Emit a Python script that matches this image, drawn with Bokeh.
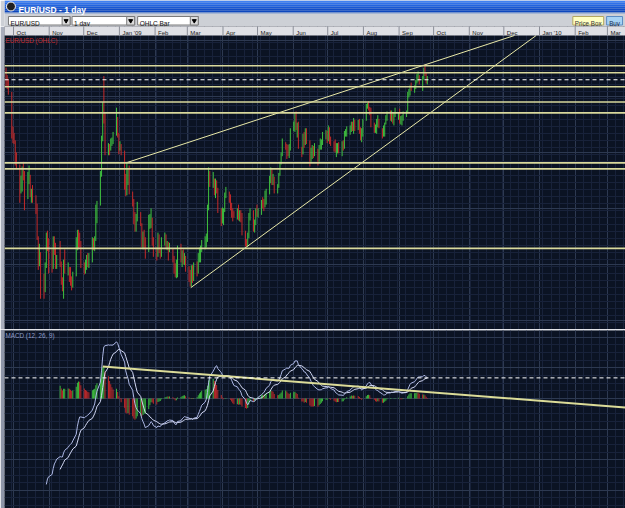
import numpy as np
import pandas as pd
from bokeh.plotting import figure
from bokeh.layouts import column
from bokeh.models import Range1d, FixedTicker, Grid, Span, Label, ColumnDataSource
from bokeh.core.properties import value
from bokeh.embed import file_html
from bokeh.resources import INLINE

# ---------------- data (EUR/USD daily) ----------------
# each row: (high, low, close)
sep08 = [(1.4810, 1.4600, 1.4640), (1.4730, 1.4580, 1.4630), (1.4690, 1.4520, 1.4600),
         (1.4550, 1.4050, 1.4090), (1.4180, 1.4000, 1.4080)]
oct08 = [(1.4110, 1.3990, 1.4030), (1.4030, 1.3760, 1.3790), (1.3900, 1.3730, 1.3770),
         (1.3770, 1.3360, 1.3500), (1.3650, 1.3460, 1.3600), (1.3750, 1.3480, 1.3650),
         (1.3800, 1.3600, 1.3620), (1.3700, 1.3280, 1.3420), (1.3690, 1.3400, 1.3610),
         (1.3760, 1.3560, 1.3630), (1.3660, 1.3420, 1.3440), (1.3510, 1.3360, 1.3460),
         (1.3550, 1.3360, 1.3400), (1.3440, 1.3240, 1.3350), (1.3350, 1.2960, 1.3000),
         (1.3000, 1.2640, 1.2760), (1.2920, 1.2680, 1.2820), (1.2830, 1.2330, 1.2500),
         (1.2600, 1.2330, 1.2470), (1.2720, 1.2400, 1.2680), (1.3040, 1.2660, 1.2990),
         (1.3060, 1.2840, 1.2950), (1.2980, 1.2600, 1.2730)]
nov08 = [(1.2860, 1.2610, 1.2700), (1.3000, 1.2650, 1.2950), (1.3000, 1.2800, 1.2880),
         (1.2930, 1.2650, 1.2720), (1.2800, 1.2650, 1.2740), (1.2950, 1.2670, 1.2720),
         (1.2730, 1.2480, 1.2500), (1.2560, 1.2410, 1.2470), (1.2750, 1.2330, 1.2730),
         (1.2860, 1.2600, 1.2630), (1.2720, 1.2580, 1.2650), (1.2670, 1.2510, 1.2590),
         (1.2670, 1.2470, 1.2520), (1.2570, 1.2420, 1.2480), (1.2620, 1.2450, 1.2580),
         (1.2990, 1.2570, 1.2890), (1.3070, 1.2850, 1.3060), (1.3070, 1.2860, 1.2980),
         (1.3040, 1.2880, 1.2930), (1.2950, 1.2660, 1.2690)]
dec08 = [(1.2720, 1.2590, 1.2620), (1.2750, 1.2600, 1.2700), (1.2800, 1.2640, 1.2730),
         (1.2820, 1.2670, 1.2700), (1.2820, 1.2660, 1.2720), (1.2990, 1.2720, 1.2940),
         (1.2980, 1.2850, 1.2930), (1.3000, 1.2840, 1.2970), (1.3340, 1.2950, 1.3290),
         (1.3380, 1.3140, 1.3340), (1.3700, 1.3330, 1.3670), (1.4080, 1.3640, 1.4040),
         (1.4440, 1.4020, 1.4400), (1.4720, 1.4210, 1.4330), (1.4330, 1.3870, 1.3900),
         (1.4000, 1.3870, 1.3950), (1.3990, 1.3870, 1.3920), (1.4050, 1.3920, 1.4000),
         (1.4060, 1.3970, 1.4020), (1.4120, 1.3990, 1.4090), (1.4380, 1.4080, 1.4350),
         (1.4280, 1.4060, 1.4110), (1.4110, 1.3880, 1.3970)]
jan09 = [(1.4020, 1.3920, 1.3980), (1.3990, 1.3870, 1.3920), (1.3920, 1.3500, 1.3620),
         (1.3670, 1.3430, 1.3450), (1.3790, 1.3440, 1.3650), (1.3720, 1.3550, 1.3700),
         (1.3760, 1.3450, 1.3460), (1.3480, 1.3320, 1.3370), (1.3400, 1.3130, 1.3190),
         (1.3260, 1.3050, 1.3140), (1.3240, 1.3050, 1.3210), (1.3370, 1.3160, 1.3280),
         (1.3260, 1.3110, 1.3110), (1.3140, 1.2880, 1.2950), (1.3050, 1.2860, 1.3000),
         (1.3070, 1.2860, 1.2970), (1.2990, 1.2760, 1.2830), (1.3230, 1.2830, 1.3160),
         (1.3240, 1.3080, 1.3160), (1.3300, 1.3090, 1.3180), (1.3200, 1.2900, 1.2960),
         (1.2990, 1.2780, 1.2800)]
feb09 = [(1.2880, 1.2740, 1.2790), (1.3040, 1.2780, 1.3000), (1.3020, 1.2820, 1.2850),
         (1.2880, 1.2760, 1.2840), (1.2990, 1.2780, 1.2950), (1.3040, 1.2900, 1.2990),
         (1.3020, 1.2860, 1.2900), (1.2950, 1.2850, 1.2920), (1.2940, 1.2740, 1.2860),
         (1.2930, 1.2830, 1.2860), (1.2870, 1.2720, 1.2780), (1.2790, 1.2600, 1.2640),
         (1.2710, 1.2560, 1.2600), (1.2750, 1.2550, 1.2680), (1.2900, 1.2560, 1.2880),
         (1.2920, 1.2720, 1.2740), (1.2850, 1.2670, 1.2820), (1.2860, 1.2700, 1.2770),
         (1.2820, 1.2690, 1.2790), (1.2790, 1.2620, 1.2670)]
mar09 = [(1.2680, 1.2510, 1.2600), (1.2640, 1.2460, 1.2590), (1.2690, 1.2460, 1.2640),
         (1.2690, 1.2500, 1.2530), (1.2720, 1.2520, 1.2660), (1.2730, 1.2570, 1.2640),
         (1.2820, 1.2600, 1.2790), (1.2880, 1.2720, 1.2820), (1.2900, 1.2720, 1.2860),
         (1.2960, 1.2830, 1.2920), (1.3000, 1.2860, 1.2960), (1.3030, 1.2880, 1.3000),
         (1.3340, 1.2940, 1.3300), (1.3740, 1.3280, 1.3650), (1.3700, 1.3530, 1.3580),
         (1.3690, 1.3520, 1.3600), (1.3620, 1.3440, 1.3490), (1.3620, 1.3410, 1.3560),
         (1.3600, 1.3460, 1.3520), (1.3520, 1.3250, 1.3280), (1.3300, 1.3110, 1.3180),
         (1.3310, 1.3140, 1.3250)]
apr09 = [(1.3300, 1.3120, 1.3280), (1.3470, 1.3260, 1.3440), (1.3530, 1.3410, 1.3480),
         (1.3480, 1.3360, 1.3420), (1.3450, 1.3280, 1.3360), (1.3360, 1.3200, 1.3270),
         (1.3300, 1.3160, 1.3230), (1.3270, 1.3200, 1.3220), (1.3300, 1.3180, 1.3280),
         (1.3340, 1.3170, 1.3200), (1.3280, 1.3160, 1.3250), (1.3280, 1.3150, 1.3190),
         (1.3250, 1.3010, 1.3030), (1.3060, 1.2890, 1.2950), (1.2970, 1.2890, 1.2930),
         (1.3040, 1.2890, 1.3000), (1.3250, 1.2980, 1.3250), (1.3300, 1.3170, 1.3280),
         (1.3280, 1.3050, 1.3070), (1.3180, 1.3040, 1.3150), (1.3300, 1.3120, 1.3260),
         (1.3340, 1.3210, 1.3250)]
may09 = [(1.3300, 1.3200, 1.3270), (1.3390, 1.3230, 1.3380), (1.3420, 1.3300, 1.3360),
         (1.3400, 1.3270, 1.3320), (1.3490, 1.3310, 1.3440), (1.3510, 1.3340, 1.3490),
         (1.3650, 1.3450, 1.3600), (1.3740, 1.3570, 1.3700), (1.3730, 1.3550, 1.3580),
         (1.3670, 1.3550, 1.3600), (1.3640, 1.3460, 1.3500), (1.3560, 1.3460, 1.3530),
         (1.3680, 1.3520, 1.3660), (1.3800, 1.3650, 1.3790), (1.3900, 1.3770, 1.3870),
         (1.4050, 1.3860, 1.4010), (1.4010, 1.3930, 1.3960), (1.3990, 1.3830, 1.3930),
         (1.3980, 1.3860, 1.3880), (1.3990, 1.3840, 1.3950), (1.4160, 1.3920, 1.4160)]
jun09 = [(1.4230, 1.4130, 1.4170), (1.4330, 1.4120, 1.4270), (1.4340, 1.4140, 1.4170),
         (1.4220, 1.4060, 1.4190), (1.4230, 1.3940, 1.3960), (1.3960, 1.3850, 1.3880),
         (1.4100, 1.3880, 1.4080), (1.4120, 1.3950, 1.4000), (1.4160, 1.3980, 1.4140),
         (1.4160, 1.3990, 1.4030), (1.4030, 1.3750, 1.3820), (1.3950, 1.3800, 1.3900),
         (1.3980, 1.3830, 1.3910), (1.3970, 1.3840, 1.3900), (1.4000, 1.3860, 1.3940),
         (1.3940, 1.3760, 1.3810), (1.3980, 1.3800, 1.3960), (1.4050, 1.3930, 1.3990),
         (1.4040, 1.3930, 1.4000), (1.4120, 1.3980, 1.4070), (1.4140, 1.4040, 1.4100),
         (1.4130, 1.4000, 1.4030)]
jul09 = [(1.4190, 1.4020, 1.4150), (1.4170, 1.3990, 1.4030), (1.4070, 1.3970, 1.4010),
         (1.4020, 1.3910, 1.3960), (1.4040, 1.3900, 1.3920), (1.4000, 1.3850, 1.3930),
         (1.4000, 1.3890, 1.3960), (1.4010, 1.3890, 1.3940), (1.4020, 1.3860, 1.3980),
         (1.4030, 1.3920, 1.3960), (1.4130, 1.3940, 1.4100), (1.4150, 1.4070, 1.4120),
         (1.4180, 1.4070, 1.4130), (1.4190, 1.4090, 1.4170), (1.4230, 1.4120, 1.4220),
         (1.4230, 1.4130, 1.4180), (1.4270, 1.4100, 1.4220), (1.4250, 1.4130, 1.4200),
         (1.4250, 1.4140, 1.4230), (1.4260, 1.4100, 1.4160), (1.4170, 1.4030, 1.4060),
         (1.4160, 1.4010, 1.4110), (1.4260, 1.4070, 1.4250)]
aug09 = [(1.4420, 1.4240, 1.4410), (1.4430, 1.4370, 1.4410), (1.4450, 1.4350, 1.4390),
         (1.4390, 1.4300, 1.4360), (1.4380, 1.4170, 1.4190), (1.4220, 1.4110, 1.4150),
         (1.4200, 1.4110, 1.4150), (1.4260, 1.4100, 1.4180), (1.4300, 1.4170, 1.4240),
         (1.4260, 1.4160, 1.4190), (1.4160, 1.4050, 1.4080), (1.4190, 1.4070, 1.4150),
         (1.4220, 1.4070, 1.4210), (1.4300, 1.4200, 1.4240), (1.4340, 1.4240, 1.4330),
         (1.4350, 1.4240, 1.4260), (1.4350, 1.4230, 1.4310), (1.4320, 1.4210, 1.4260),
         (1.4330, 1.4190, 1.4300), (1.4380, 1.4280, 1.4320), (1.4330, 1.4250, 1.4330)]
sep09 = [(1.4370, 1.4210, 1.4240), (1.4290, 1.4200, 1.4250), (1.4300, 1.4190, 1.4270),
         (1.4340, 1.4240, 1.4310), (1.4350, 1.4280, 1.4340), (1.4550, 1.4320, 1.4530),
         (1.4580, 1.4490, 1.4560), (1.4620, 1.4510, 1.4610), (1.4650, 1.4560, 1.4570),
         (1.4620, 1.4540, 1.4610), (1.4680, 1.4580, 1.4650), (1.4740, 1.4640, 1.4720),
         (1.4770, 1.4660, 1.4720), (1.4730, 1.4630, 1.4680), (1.4720, 1.4560, 1.4710),
         (1.4810, 1.4680, 1.4790), (1.4844, 1.4720, 1.4750), (1.4760, 1.4640, 1.4680),
         (1.4720, 1.4630, 1.4680)]
first_open = 1.4750

month_blocks = [("2008-09-24", "2008-09-30", sep08), ("2008-10-01", "2008-10-31", oct08),
                ("2008-11-01", "2008-11-30", nov08), ("2008-12-01", "2008-12-31", dec08),
                ("2009-01-01", "2009-01-31", jan09), ("2009-02-01", "2009-02-28", feb09),
                ("2009-03-01", "2009-03-31", mar09), ("2009-04-01", "2009-04-30", apr09),
                ("2009-05-01", "2009-05-31", may09), ("2009-06-01", "2009-06-30", jun09),
                ("2009-07-01", "2009-07-31", jul09), ("2009-08-01", "2009-08-31", aug09),
                ("2009-09-01", "2009-09-25", sep09)]

# horizontal support / resistance levels drawn on the chart
levels = [1.4830, 1.4755, 1.4605, 1.4441, 1.4325, 1.3788, 1.3724, 1.2871]
# trend lines (start date, start price, end date, end price)
trend_x0 = ["2009-01-07 04:00", "2009-03-04 00:00"]
trend_y0 = [1.3790, 1.2449]
trend_x1 = ["2009-12-10 05:00", "2009-12-29 02:00"]
trend_y1 = [1.5155, 1.5155]
# trend line on MACD panel
macd_trend_x = ["2008-12-17 12:00", "2010-03-17 00:00"]
macd_trend_y = [0.0188, -0.0053]

# month axis
month_starts = ["2008-10-01", "2008-11-01", "2008-12-01", "2009-01-01", "2009-02-01", "2009-03-01",
                "2009-04-01", "2009-05-01", "2009-06-01", "2009-07-01", "2009-08-01", "2009-09-01",
                "2009-10-01", "2009-11-01", "2009-12-01", "2010-01-01", "2010-02-01", "2010-03-01"]
month_labels = ["Oct", "Nov", "Dec", "Jan '09", "Feb", "Mar", "Apr", "May", "Jun", "Jul", "Aug",
                "Sep", "Oct", "Nov", "Dec", "Jan '10", "Feb", "Mar"]

# ---------------- helpers ----------------
DAY = 86400000.0
def ms(d):
    return pd.Timestamp(d).value / 1e6

t, hi, lo, cl = [], [], [], []
for s, e, rows in month_blocks:
    for d, (h, l, c) in zip(pd.bdate_range(s, e), rows):
        t.append(ms(d) + DAY / 2)
        hi.append(h); lo.append(l); cl.append(c)
op = [first_open] + cl[:-1]
UP, DOWN = "#3fc23f", "#c42a2a"
bar_col = [UP if c >= o else DOWN for o, c in zip(op, cl)]
bars = ColumnDataSource(dict(t=t, hi=hi, lo=lo, op=op, cl=cl, col=bar_col))


def ema(x, n):
    """EMA seeded with the simple average of the first n values."""
    x = np.asarray(x, dtype=float)
    out = np.full(len(x), np.nan)
    a = 2.0 / (n + 1)
    out[n - 1] = x[:n].mean()
    for i in range(n, len(x)):
        out[i] = out[i - 1] + a * (x[i] - out[i - 1])
    return out

# MACD(12, 26, 9)
macd_full = ema(cl, 12) - ema(cl, 26)
macd = macd_full[25:]
sig = ema(macd, 9)[8:]
hv = macd[8:] - sig
hcol = [UP] + [UP if hv[i] >= hv[i - 1] else DOWN for i in range(1, len(hv))]
tt = np.array(t)

BG = "#0b1323"
SIDE = "#a9aebc"
FONT = value("Liberation Sans")

x0, x1 = ms("2008-09-23 04:00"), ms("2010-03-16 17:00")
xr = Range1d(x0, x1)

month_ms = [ms(m) for m in month_starts]
mondays = [ms(d) for d in pd.date_range("2008-09-15", "2010-03-22", freq="W-MON")]

def bare(w, h, xrng, yrng, left=0, top=0):
    f = figure(width=w, height=h, x_range=xrng, y_range=yrng, title=None, toolbar_location=None,
               output_backend="svg", x_axis_location=None, y_axis_location=None,
               min_border=0, min_border_left=left, min_border_top=top,
               min_border_right=0, min_border_bottom=0)
    f.grid.visible = False
    f.outline_line_color = None
    return f

def base_fig(h, yr, top_border=0):
    f = bare(625, h, xr, yr, left=4, top=top_border)
    f.background_fill_color = BG
    f.border_fill_color = SIDE
    return f

# ---------------- header (window title + toolbar) ----------------
hdr = bare(625, 26, Range1d(0, 625), Range1d(26, 0))
hdr.background_fill_color = "#cdd0d6"
hdr.border_fill_color = "#cdd0d6"
blues = ["#3f80f2", "#2f71ea", "#2264e0", "#1858d4", "#114dc8", "#0d47bd"]
for i, c in enumerate(blues):
    hdr.quad(left=0, right=625, top=i * 2, bottom=i * 2 + 2, fill_color=c, line_color=None)
hdr.quad(left=0, right=625, top=12, bottom=13, fill_color="#7f9ccf", line_color=None)
hdr.circle(x=6.5, y=6, radius=4.5, fill_color="#202020", line_color="#ffffff", line_width=1)
hdr.text(x=[14], y=[9.5], text=["EUR/USD - 1 day"], text_color="white", text_font=FONT,
         text_font_size="8.5px", text_font_style="bold", text_baseline="alphabetic")
for (a, b, lab) in [(4, 66, "EUR/USD"), (68, 131, "1 day"), (134, 195, "OHLC Bar")]:
    hdr.quad(left=a, right=b, top=16, bottom=24.5, fill_color="white", line_color="#7a7a7a", line_width=1)
    hdr.quad(left=b - 8, right=b, top=16, bottom=24.5, fill_color="#dcdcdc", line_color="#7a7a7a", line_width=1)
    hdr.scatter(x=b - 4, y=20.3, marker="inverted_triangle", size=4, fill_color="black", line_color="black")
    hdr.text(x=[a + 2], y=[22.5], text=[lab], text_color="#111111", text_font=FONT,
             text_font_size="6.5px", text_baseline="alphabetic")
hdr.quad(left=572, right=603, top=16, bottom=24.5, fill_color="#ffffc2", line_color="#b4a860")
hdr.text(x=[587.5], y=[22.5], text=["Price Box"], text_color="#333333", text_font=FONT,
         text_font_size="6.3px", text_align="center", text_baseline="alphabetic")
hdr.quad(left=606, right=622, top=16, bottom=24.5, fill_color="#a6d2f4", line_color="#5b8cc2")
hdr.text(x=[614], y=[22.5], text=["Buy"], text_color="#1a2a4a", text_font=FONT,
         text_font_size="6.3px", text_align="center", text_baseline="alphabetic")

# ---------------- price panel (with month strip on top) ----------------
Y_LO, Y_HI = 1.2000, 1.5155
PX = (Y_HI - Y_LO) / 294.0          # price per pixel
STRIP_TOP = Y_HI + 9 * PX
p = base_fig(303, Range1d(Y_LO, STRIP_TOP))
p.add_layout(Grid(dimension=0, ticker=FixedTicker(ticks=month_ms, minor_ticks=mondays),
                  grid_line_color="#2d3951", minor_grid_line_color="#18223a"))
p.add_layout(Grid(dimension=1, ticker=FixedTicker(ticks=list(np.arange(1.21, 1.52, 0.06)),
                                                  minor_ticks=list(np.arange(1.2, 1.515, 0.0075))),
                  grid_line_color="#2d3951", minor_grid_line_color="#18223a"))
for lv in levels:
    p.add_layout(Span(location=lv, dimension="width", line_color="#d9d99c", line_width=1.6))
p.add_layout(Span(location=cl[-1], dimension="width", line_color="#ffffff", line_width=1,
                  line_dash="4 3"))
p.segment(x0="t", y0="lo", x1="t", y1="hi", color="col", line_width=1, source=bars)
p.segment(x0=[ms(x) for x in trend_x0], y0=trend_y0, x1=[ms(x) for x in trend_x1], y1=trend_y1,
          line_color="#e9e9a8", line_width=1)
# month strip
p.quad(left=x0 - 30 * DAY, right=x1 + 30 * DAY, bottom=Y_HI, top=STRIP_TOP + PX,
       fill_color="#dfe0e5", line_color=None)
p.segment(x0=month_ms, y0=Y_HI, x1=month_ms, y1=STRIP_TOP + PX, line_color="#8b8e98", line_width=1)
p.text(x=month_ms, y=Y_HI + 2.4 * PX, text=month_labels, x_offset=3, text_baseline="alphabetic",
       text_font=FONT, text_font_size="6px", text_color="#222222")
p.add_layout(Label(x=1, y=289.5, x_units="screen", y_units="screen", text="EUR/USD (OHLC)",
                   text_color="#c42a2a", text_font_size="6.3px", text_font="Liberation Sans",
                   text_baseline="alphabetic"))

# ---------------- MACD panel ----------------
m = base_fig(179, Range1d(-0.0647, 0.0400), top_border=1)
m.border_fill_color = "#8e95a8"
m.add_layout(Grid(dimension=0, ticker=FixedTicker(ticks=month_ms, minor_ticks=mondays),
                  grid_line_color="#2d3951", minor_grid_line_color="#18223a"))
m.add_layout(Grid(dimension=1, ticker=FixedTicker(ticks=[-0.054, -0.036, -0.018, 0.0, 0.018, 0.036],
                                                  minor_ticks=list(np.arange(-0.072, 0.045, 0.0045))),
                  grid_line_color="#2d3951", minor_grid_line_color="#18223a"))
m.vbar(x=tt[33:], bottom=0, top=hv, width=0.8 * DAY, fill_color=hcol, line_color=None)
m.line(tt[25:], macd, line_color="#aeb9e6", line_width=1)
m.line(tt[33:], sig, line_color="#d3d9f5", line_width=1)
m.add_layout(Span(location=float(macd[-1]), dimension="width", line_color="#ffffff",
                  line_width=1, line_dash="4 3"))
m.line([ms(x) for x in macd_trend_x], macd_trend_y, line_color="#dcdc98", line_width=2)
m.add_layout(Label(x=1, y=173, x_units="screen", y_units="screen", text="MACD (12, 26, 9)",
                   text_color="#8e9cc8", text_font_size="6.3px", text_font="Liberation Sans",
                   text_baseline="alphabetic"))

layout = column(hdr, p, m, spacing=0)
open("out.html", "w").write(file_html(layout, INLINE))
